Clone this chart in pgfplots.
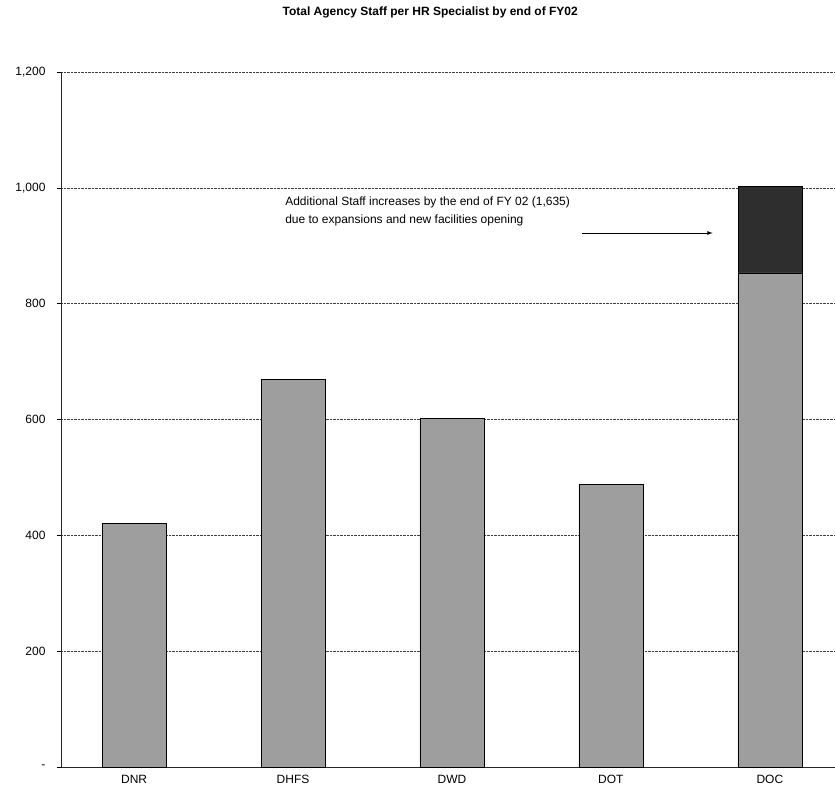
\documentclass[border=0pt]{standalone}
\usepackage{pgfplots}
\pgfplotsset{compat=1.18}
\usepackage{fontspec}
\setmainfont{Liberation Sans}
\begin{document}
\begin{tikzpicture}
\path[use as bounding box] (0,0) rectangle (835pt,792pt);
\begin{axis}[
  at={(61pt,25pt)}, anchor=south west,
  scale only axis, width=774pt, height=695pt,
  clip=false,
  ybar stacked, bar width=64pt,
  xmin=-0.46, xmax=4.41, ymin=0, ymax=1200,
  xtick={0,...,4}, xticklabels={DNR,DHFS,DWD,DOT,DOC},
  ytick={0,200,...,1200}, yticklabels={-,200,400,600,800,{1,000},{1,200}},
  axis x line=bottom, axis y line=left,
  axis line style={-, line width=0.8pt, black!85},
  ymajorgrids, grid style={densely dotted, black!75, line width=0.5pt},
  xtick style={draw=none},
  ytick style={black, line width=0.5pt},
  major tick length=4pt, tick align=outside,
  tick label style={font=\fontsize{12}{14}\selectfont},
  yticklabel style={xshift=-8pt},
  xticklabel style={yshift=-1pt},
  /pgf/number format/assume math mode=true,
]
\addplot[fill=black!38, draw=black, line width=0.6pt] coordinates {(0,420) (1,669) (2,602) (3,488) (4,853)};
\addplot[fill=black!82, draw=black, line width=0.6pt] coordinates {(0,0) (1,0) (2,0) (3,0) (4,150)};
\node[font=\bfseries\fontsize{12}{14}\selectfont] at (rel axis cs:0.477,1) [yshift=60pt] {Total Agency Staff per HR Specialist by end of FY02};
\node[anchor=north west, align=left, font=\fontsize{12}{18}\selectfont, inner sep=0pt] at (axis cs:0.95,984) {Additional Staff increases by the end of FY 02 (1,635)\\due to expansions and new facilities opening};
\draw[-latex, line width=0.8pt] (axis cs:2.82,922) -- (axis cs:3.64,922);
\end{axis}
\end{tikzpicture}
\end{document}
